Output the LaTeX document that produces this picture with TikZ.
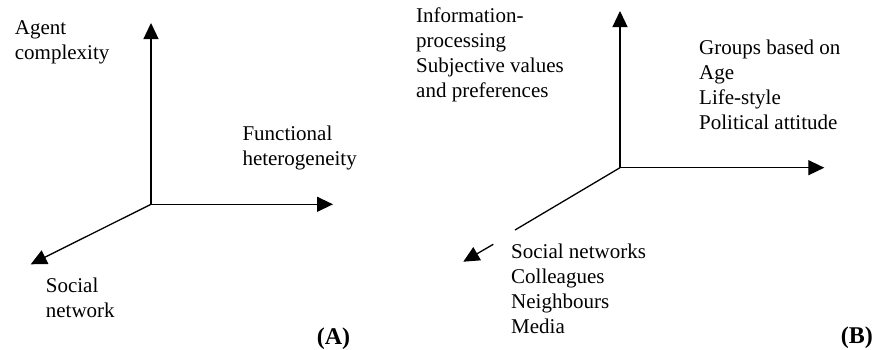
\documentclass[tikz,border=0pt]{standalone}
\usepackage{fontspec}
\setmainfont{Liberation Serif}
\usetikzlibrary{arrows.meta}

% multi-line label whose reference point is the first baseline
\newcommand{\stack}[1]{\begin{tabular}[t]{@{}l@{}}#1\end{tabular}}

\tikzset{
  axis/.style={line width=1.3pt, -{Triangle[length=16pt,width=15pt]}},
  plainaxis/.style={line width=1.3pt},
  label/.style={anchor=base west, inner sep=0pt, font=\fontsize{21}{25}\selectfont},
  panel/.style={anchor=base west, inner sep=0pt, font=\fontsize{24}{28}\selectfont\bfseries},
}

\begin{document}
\begin{tikzpicture}[x=1pt, y=-1pt]
  \useasboundingbox (0,0) rectangle (875,349);

  % ---- panel A ----
  \coordinate (oA) at (151,204.3);
  \coordinate (upA) at (151,23);
  \coordinate (rtA) at (333,204.3);
  \coordinate (dlA) at (30.7,264.3);
  \draw[axis] (oA) -- (upA);
  \draw[axis] (oA) -- (rtA);
  \draw[axis] (oA) -- (dlA);

  \node[label] (agent) at (14.7,34.5) {\stack{Agent\\complexity}};
  \node[label] (func) at (242.3,140.5) {\stack{Functional\\heterogeneity}};
  \node[label] (soc) at (45.7,292.3) {\stack{Social\\network}};
  \node[panel] (pA) at (316.7,344) {(A)};

  % ---- panel B ----
  \coordinate (oB) at (620,167.7);
  \coordinate (upB) at (620,11);
  \coordinate (rtB) at (824.3,167.7);
  \coordinate (dlB) at (515,230);
  \coordinate (dlBs) at (493.3,244.3);
  \coordinate (dlBt) at (463.3,261.7);
  \draw[axis] (oB) -- (upB);
  \draw[axis] (oB) -- (rtB);
  \draw[plainaxis] (oB) -- (dlB);
  \draw[axis] (dlBs) -- (dlBt);

  \node[label] (info) at (416,22.5) {\stack{Information-\\processing\\Subjective values\\and preferences}};
  \node[label] (groups) at (699,54) {\stack{Groups based on\\Age\\Life-style\\Political attitude}};
  \node[label] (nets) at (511,258.3) {\stack{Social networks\\Colleagues\\Neighbours\\Media}};
  \node[panel] (pB) at (840.7,343.3) {(B)};
\end{tikzpicture}
\end{document}
